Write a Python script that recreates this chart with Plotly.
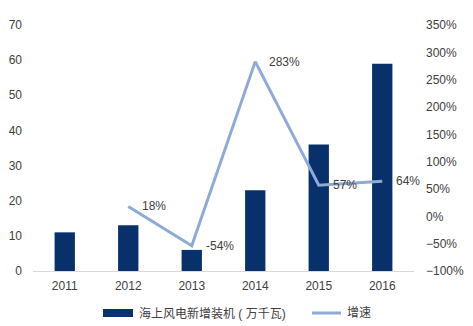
import plotly.graph_objects as go

# Offshore wind: new installed capacity and year-on-year growth
years = ["2011", "2012", "2013", "2014", "2015", "2016"]
capacity = [11, 13, 6, 23, 36, 59]
growth_years = ["2012", "2013", "2014", "2015", "2016"]
growth = [0.18, -0.54, 2.83, 0.57, 0.64]
growth_labels = ["18%", "-54%", "283%", "57%", "64%"]

bar_name = "海上风电新增装机 ( 万千瓦)"
line_name = "增速"

FONT = "Liberation Sans, Arial, Noto Sans CJK SC, sans-serif"
TEXT = "#404040"
BAR = "#08306B"
LINE = "#8EAAD6"

W, H = 473, 326
ML, MR, MT, MB = 33, 59, 25, 55
PW, PH = W - ML - MR, H - MT - MB


def px_x(x):
    return (x - ML) / PW


def px_y(y):
    return (H - MB - y) / PH


fig = go.Figure()
fig.add_trace(go.Bar(
    x=years, y=capacity, name=bar_name,
    marker=dict(color=BAR, line=dict(width=0)), width=0.32,
    showlegend=False,
))
fig.add_trace(go.Scatter(
    x=growth_years, y=growth, name=line_name, yaxis="y2",
    mode="lines", line=dict(color=LINE, width=3),
    showlegend=False,
))

# value labels beside each growth point (category index positions)
for xv, yv, t in zip(growth_years, growth, growth_labels):
    fig.add_annotation(
        x=years.index(xv), y=yv, xref="x", yref="y2", text=t, showarrow=False,
        xanchor="left", yanchor="middle", xshift=12,
        font=dict(family=FONT, size=12, color=TEXT),
    )

# legend drawn beneath the plot
fig.add_shape(type="rect", xref="paper", yref="paper",
              x0=px_x(103), x1=px_x(133), y0=px_y(317), y1=px_y(309),
              fillcolor=BAR, line=dict(width=0))
fig.add_annotation(x=px_x(137), y=px_y(313), xref="paper", yref="paper",
                   text=bar_name, showarrow=False, xanchor="left", yanchor="middle",
                   font=dict(family=FONT, size=12, color=TEXT))
fig.add_shape(type="line", xref="paper", yref="paper",
              x0=px_x(312), x1=px_x(341), y0=px_y(313), y1=px_y(313),
              line=dict(color=LINE, width=3))
fig.add_annotation(x=px_x(345), y=px_y(313), xref="paper", yref="paper",
                   text=line_name, showarrow=False, xanchor="left", yanchor="middle",
                   font=dict(family=FONT, size=12, color=TEXT))

fig.update_layout(
    width=W, height=H,
    margin=dict(l=ML, r=MR, t=MT, b=MB, autoexpand=False),
    paper_bgcolor="white", plot_bgcolor="white",
    font=dict(family=FONT, size=12, color=TEXT),
    showlegend=False,
    xaxis=dict(
        type="category", range=[-0.5, 5.5],
        showline=True, linecolor="#D9D9D9", linewidth=1,
        ticks="", showgrid=False, ticklabelstandoff=4,
    ),
    yaxis=dict(
        range=[0, 70], dtick=10, showgrid=False, zeroline=False,
        ticks="", ticklabelstandoff=10,
    ),
    yaxis2=dict(
        range=[-1, 3.5], dtick=0.5, tickformat=".0%", overlaying="y",
        side="right", showgrid=False, zeroline=False,
        ticks="", ticklabelstandoff=11,
    ),
)

fig.write_html("out.html")
